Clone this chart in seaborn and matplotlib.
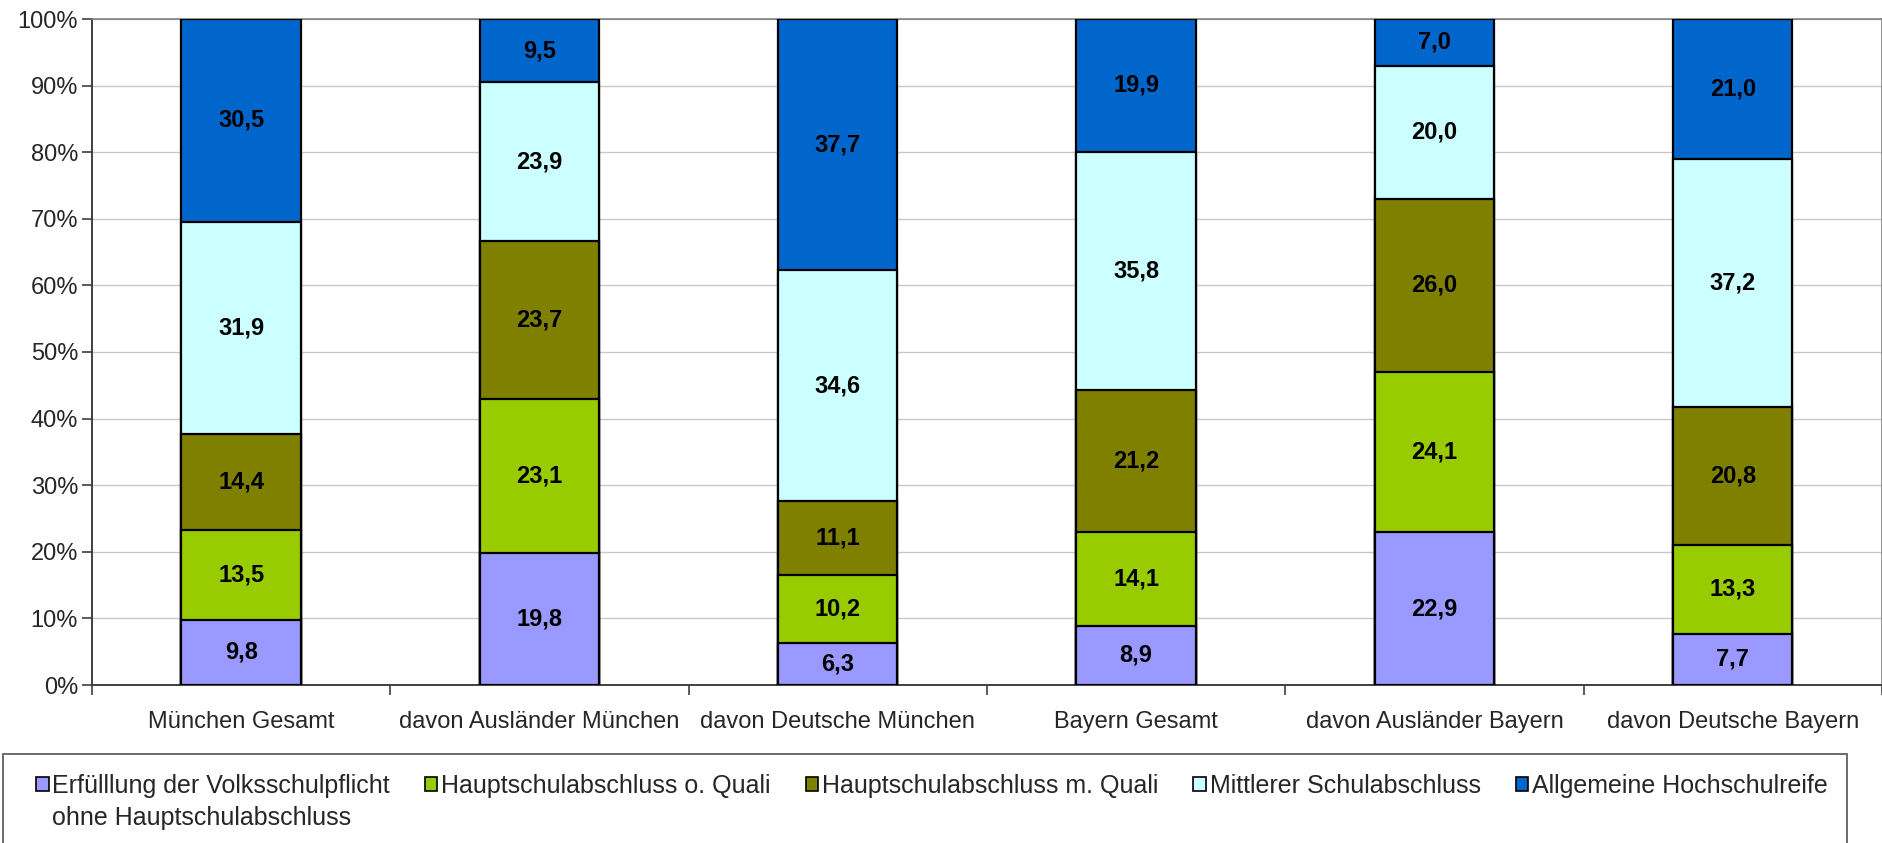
import numpy as np
import pandas as pd
import matplotlib
matplotlib.use("Agg")
import matplotlib.pyplot as plt
import seaborn as sns
from matplotlib.patches import Patch, Rectangle
from matplotlib.ticker import FixedLocator, PercentFormatter

# --- Daten ---
gruppen = ["München Gesamt", "davon Ausländer München", "davon Deutsche München",
           "Bayern Gesamt", "davon Ausländer Bayern", "davon Deutsche Bayern"]
volksschulpflicht = [9.8, 19.8, 6.3, 8.9, 22.9, 7.7]
hs_ohne_quali = [13.5, 23.1, 10.2, 14.1, 24.1, 13.3]
hs_mit_quali = [14.4, 23.7, 11.1, 21.2, 26.0, 20.8]
mittlerer = [31.9, 23.9, 34.6, 35.8, 20.0, 37.2]
hochschulreife = [30.5, 9.5, 37.7, 19.9, 7.0, 21.0]

serien = ["Erfülllung der Volksschulpflicht", "Hauptschulabschluss o. Quali",
          "Hauptschulabschluss m. Quali", "Mittlerer Schulabschluss",
          "Allgemeine Hochschulreife"]
farben = ["#9999FF", "#99CC00", "#808000", "#CCFFFF", "#0066CC"]

df = pd.DataFrame({
    serien[0]: volksschulpflicht,
    serien[1]: hs_ohne_quali,
    serien[2]: hs_mit_quali,
    serien[3]: mittlerer,
    serien[4]: hochschulreife,
}, index=gruppen)

# 100%-gestapelt wie im Original
anteile = df.div(df.sum(axis=1), axis=0) * 100
kumuliert = anteile.cumsum(axis=1)

sns.set_theme(style="white")
plt.rcParams["font.family"] = ["Liberation Sans", "DejaVu Sans"]

fig = plt.figure(figsize=(18.83, 8.43), dpi=100)
ax = fig.add_axes([92 / 1883, 1 - 685 / 843, 1 - 92 / 1883 - 1 / 1883, (685 - 19) / 843])

# Gestapelte Balken: kumulierte Summen von oben nach unten übereinander zeichnen
for serie, farbe in reversed(list(zip(serien, farben))):
    sns.barplot(x=gruppen, y=kumuliert[serie].values, color=farbe, width=0.4,
                edgecolor="black", linewidth=1.6, saturation=1, ax=ax, zorder=3)

# Wertebeschriftungen in der Mitte der Segmente
for i, gruppe in enumerate(gruppen):
    for serie in serien:
        mitte = kumuliert.loc[gruppe, serie] - anteile.loc[gruppe, serie] / 2
        text = f"{df.loc[gruppe, serie]:.1f}".replace(".", ",")
        ax.text(i, mitte, text, ha="center", va="center", fontsize=17,
                fontweight="bold", color="black", zorder=4)

ax.set_ylim(0, 100)
ax.set_xlim(-0.5, len(gruppen) - 0.5)
ax.set_yticks(np.arange(0, 101, 10))
ax.yaxis.set_major_formatter(PercentFormatter(decimals=0))
ax.grid(axis="y", color="#c8c8c8", linewidth=1, zorder=0)
ax.set_axisbelow(True)

ax.tick_params(axis="y", which="major", direction="out", length=7, width=1.2,
               color="#404040", labelsize=17, pad=3, left=True)
ax.tick_params(axis="x", which="major", length=0, labelsize=17, pad=19, bottom=False)
ax.xaxis.set_minor_locator(FixedLocator(np.arange(-0.5, len(gruppen), 1)))
ax.tick_params(axis="x", which="minor", direction="out", length=7, width=1.2,
               color="#404040", bottom=True)

for seite in ["left", "bottom"]:
    ax.spines[seite].set_color("#404040")
    ax.spines[seite].set_linewidth(1.4)
for seite in ["top", "right"]:
    ax.spines[seite].set_color("#808080")
    ax.spines[seite].set_linewidth(1.2)
ax.set_xlabel("")
ax.set_ylabel("")

# Legende unten (zweite Zeile des ersten Eintrags als unsichtbarer Eintrag)
handles = [Patch(facecolor=f, edgecolor="black", linewidth=1.2, label=s)
           for s, f in zip(serien, farben)]
handles.insert(1, Patch(facecolor="none", edgecolor="none", label="ohne Hauptschulabschluss"))
leg = fig.legend(handles=handles, loc="upper left", bbox_to_anchor=(36 / 1883, 1 - 774 / 843),
                 ncol=5, fontsize=18, frameon=False, handlelength=0.5,
                 handleheight=0.5, handletextpad=0.15, columnspacing=1.4,
                 labelspacing=0.3, borderpad=0, borderaxespad=0)
fig.patches.append(Rectangle((3 / 1883, -0.02), (1847 - 3) / 1883, 0.02 + (843 - 754) / 843,
                             transform=fig.transFigure, facecolor="none",
                             edgecolor="#606060", linewidth=1.3))

fig.savefig("out.png", dpi=100)
plt.close()
